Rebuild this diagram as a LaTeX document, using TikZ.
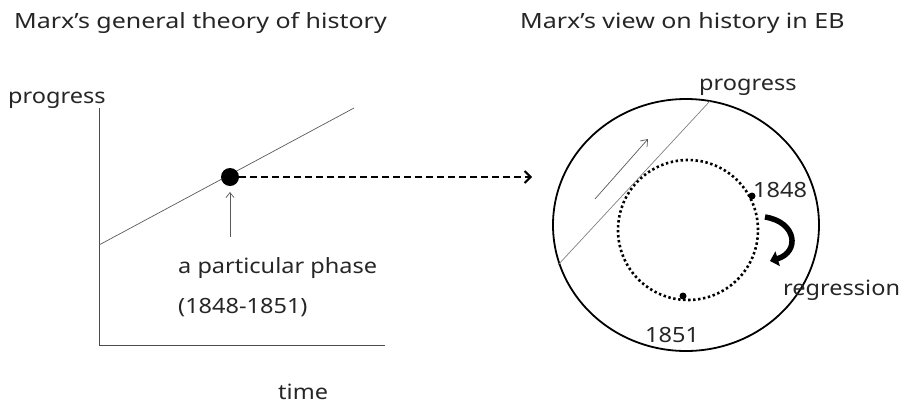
\documentclass[tikz,border=0pt]{standalone}
\usepackage{fontspec}
\setmainfont[FakeStretch=1.12]{Noto Sans}
\newfontfamily\ttlfont[FakeStretch=1.19]{Noto Sans}
\usetikzlibrary{arrows.meta,shapes.geometric}
\begin{document}
\begin{tikzpicture}[x=1pt,y=-1pt,
  lbl/.style={font=\fontsize{21}{24}\selectfont, inner sep=0pt, text=black!85, anchor=base west},
  ttl/.style={lbl, font=\ttlfont\fontsize{21}{24}\selectfont},
  axis/.style={draw=black!70, line width=0.9pt},
  thin/.style={draw=black!65, line width=0.7pt}]
\useasboundingbox (0,0) rectangle (900,405);
% titles
\node[ttl] (t1) at (14,28) {Marx’s general theory of history};
\node[ttl] (t2) at (520,28) {Marx’s view on history in EB};
% left graph
\coordinate (o) at (99,345);
\coordinate (ytop) at (99,108);
\coordinate (xend) at (385,345);
\draw[axis] (ytop) -- (o) -- (xend);
\node[lbl] (prog1) at (8,103) {progress};
\node[lbl] (time) at (278,399) {time};
\coordinate (l1) at (99,245);
\coordinate (l2) at (354,108);
\draw[thin] (l1) -- (l2);
\node[circle, fill=black, minimum size=18pt, inner sep=0pt] (dot) at (230,177) {};
\coordinate (pa) at (230,237);
\draw[thin, -{Straight Barb[length=5pt,width=8pt]}] (pa) -- (230,192);
\node[lbl] (phase) at (178,273) {a particular phase};
\node[lbl] (years) at (178,313) {(1848-1851)};
% dashed arrow
\coordinate (dend) at (532,177);
\draw[line width=2.2pt, dash pattern=on 7pt off 4pt, -{Straight Barb[length=6pt,width=12pt,line width=2pt]}] (dot.east) -- (dend);
% right
\node[ellipse, draw, line width=1.8pt, minimum width=266pt, minimum height=252pt, inner sep=0pt] (big) at (686,225) {};
\node[circle, draw, line width=2.6pt, dash pattern=on 2.4pt off 2.6pt, minimum size=140pt, inner sep=0pt] (small) at (688,230) {};
\coordinate (g1) at (558,265);
\coordinate (g2) at (710,101);
\draw[draw=black!50, line width=0.7pt] (g1) -- (g2);
\coordinate (a1) at (595,199);
\coordinate (a2) at (648,139);
\draw[thin, -{Straight Barb[length=6pt,width=9pt]}] (a1) -- (a2);
\fill (752,196) circle (3.5pt) coordinate (d1848);
\fill (683,296) circle (3.5pt) coordinate (d1851);
\node[lbl] (l1848) at (753,197) {1848};
\node[lbl] (l1851) at (645,342) {1851};
\node[lbl] (reg) at (783,295) {regression};
\node[lbl] (prog2) at (699,90) {progress};
% thick curved arrow
\coordinate (c1) at (765,217);
\coordinate (c2) at (770,261);
\draw[line width=5.5pt, -{Triangle[length=8pt,width=15pt]}] (c1) .. controls (797,222) and (800,252) .. (c2);
\end{tikzpicture}
\end{document}
